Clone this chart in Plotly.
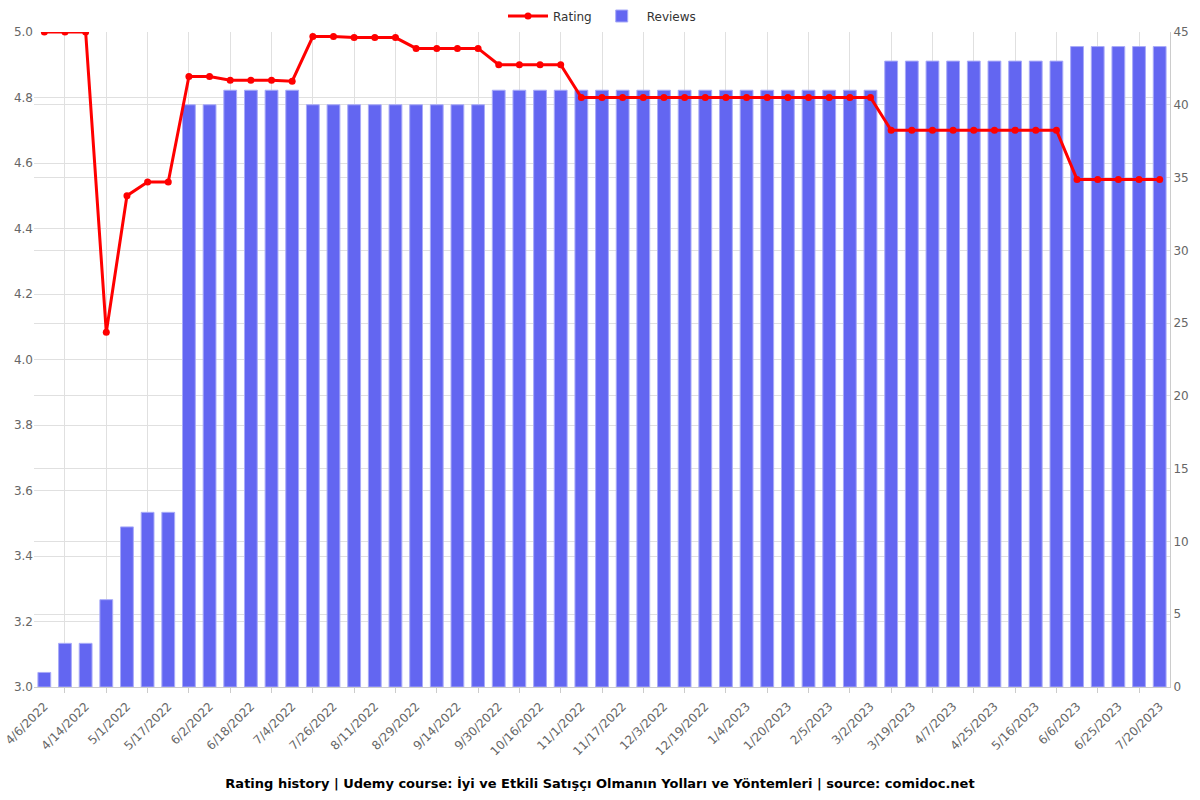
import plotly.graph_objects as go

dates = [
    "4/6/2022", "4/10/2022", "4/14/2022", "4/22/2022", "5/1/2022", "5/9/2022",
    "5/17/2022", "5/25/2022", "6/2/2022", "6/10/2022", "6/18/2022", "6/26/2022",
    "7/4/2022", "7/15/2022", "7/26/2022", "8/3/2022", "8/11/2022", "8/20/2022",
    "8/29/2022", "9/6/2022", "9/14/2022", "9/22/2022", "9/30/2022", "10/8/2022",
    "10/16/2022", "10/24/2022", "11/1/2022", "11/9/2022", "11/17/2022", "11/25/2022",
    "12/3/2022", "12/11/2022", "12/19/2022", "12/27/2022", "1/4/2023", "1/12/2023",
    "1/20/2023", "1/28/2023", "2/5/2023", "2/17/2023", "3/2/2023", "3/10/2023",
    "3/19/2023", "3/28/2023", "4/7/2023", "4/16/2023", "4/25/2023", "5/5/2023",
    "5/16/2023", "5/26/2023", "6/6/2023", "6/15/2023", "6/25/2023", "7/7/2023",
    "7/20/2023",
]

reviews = [
    1, 3, 3, 6, 11, 12, 12, 40, 40, 41, 41, 41, 41, 40, 40, 40, 40, 40, 40, 40,
    40, 40, 41, 41, 41, 41, 41, 41, 41, 41, 41, 41, 41, 41, 41, 41, 41, 41, 41, 41,
    41, 43, 43, 43, 43, 43, 43, 43, 43, 43, 44, 44, 44, 44, 44,
]

rating = [
    5.0, 5.0, 5.0, 4.083, 4.5, 4.542, 4.542, 4.864, 4.864, 4.853, 4.853, 4.853,
    4.85, 4.986, 4.986, 4.983, 4.983, 4.983, 4.95, 4.95, 4.95, 4.95, 4.9, 4.9,
    4.9, 4.9, 4.8, 4.8, 4.8, 4.8, 4.8, 4.8, 4.8, 4.8, 4.8, 4.8, 4.8, 4.8, 4.8,
    4.8, 4.8, 4.7, 4.7, 4.7, 4.7, 4.7, 4.7, 4.7, 4.7, 4.7, 4.55, 4.55, 4.55,
    4.55, 4.55,
]

label_dates = dates[0::2]
grid_dates = dates[1::2]

title_text = ("Rating history | Udemy course: İyi ve Etkili Satışçı Olmanın Yolları "
              "ve Yöntemleri | source: comidoc.net")

RED = "#ff0000"
BLUE = "#6366f1"
GRID = "#e0e0e0"
TICK = "#666666"

fig = go.Figure()

fig.add_trace(go.Bar(
    x=dates, y=reviews, name="Reviews", xaxis="x", yaxis="y",
    marker=dict(color=BLUE, line=dict(color="#a9abf8", width=1)),
    width=0.62, legendrank=2,
))

fig.add_trace(go.Scatter(
    x=dates, y=rating, name="Rating", xaxis="x2", yaxis="y2",
    mode="lines+markers",
    line=dict(color=RED, width=3),
    marker=dict(color=RED, size=7),
    legendrank=1,
))

fig.update_layout(
    width=1200, height=800,
    paper_bgcolor="white", plot_bgcolor="white",
    margin=dict(l=34, r=30, t=32, b=113, autoexpand=False),
    font=dict(family="DejaVu Sans", size=12, color=TICK),
    barmode="overlay",
    showlegend=True,
    legend=dict(orientation="h", x=0.5, xanchor="center",
                yref="container", y=1 - 16 / 800, yanchor="middle",
                font=dict(size=12, color="#333333"), bgcolor="rgba(0,0,0,0)",
                itemwidth=40),
    title=dict(text="<b>" + title_text + "</b>", x=0.5, xanchor="center",
               y=1 - 783 / 800, yanchor="middle",
               font=dict(size=13, color="#000000", family="DejaVu Sans")),
    xaxis=dict(
        type="category", categoryorder="array", categoryarray=dates,
        range=[-0.5, len(dates) - 0.5], automargin=False,
        tickmode="array", tickvals=grid_dates, ticktext=[""] * len(grid_dates),
        ticks="outside", ticklen=5, tickcolor="#cccccc",
        showgrid=True, gridcolor=GRID, gridwidth=1,
        showline=True, linecolor="#cccccc", linewidth=1,
        zeroline=False,
    ),
    xaxis2=dict(
        type="category", categoryorder="array", categoryarray=dates,
        overlaying="x", matches="x", anchor="y2", side="bottom",
        range=[-0.5, len(dates) - 0.5], automargin=False,
        tickmode="array", tickvals=label_dates, ticktext=label_dates,
        tickangle=-45, ticks="", ticklabelstandoff=9,
        showgrid=False, showline=False, zeroline=False,
        tickfont=dict(size=12, color=TICK),
    ),
    yaxis=dict(
        side="right", range=[0, 45], dtick=5, tick0=0, automargin=False,
        showgrid=True, gridcolor=GRID, zeroline=False,
        showline=True, linecolor="#cccccc", ticks="",
        tickfont=dict(size=12, color=TICK),
    ),
    yaxis2=dict(
        side="left", overlaying="y", range=[3, 5], dtick=0.2, tick0=3,
        automargin=False,
        tickformat=".1f", showgrid=True, gridcolor=GRID, zeroline=False,
        showline=False, ticks="",
        tickfont=dict(size=12, color=TICK),
    ),
)

fig.write_html("out.html")
